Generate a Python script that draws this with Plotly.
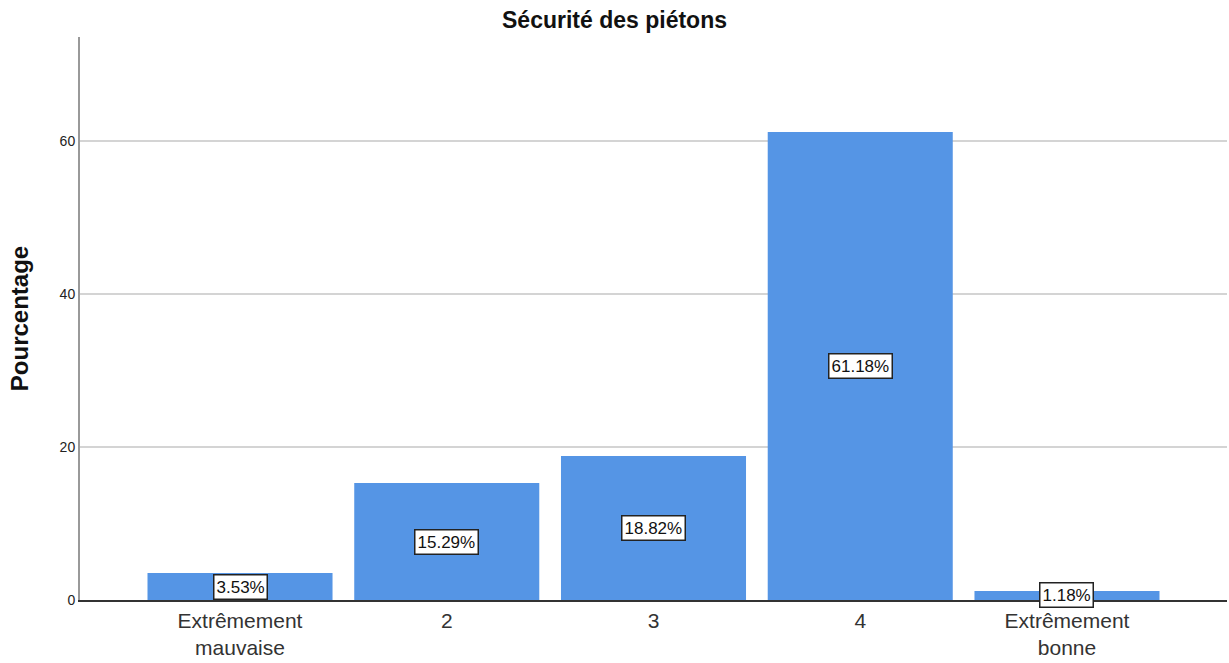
import plotly.graph_objects as go

categories = ["Extrêmement<br>mauvaise", "2", "3", "4", "Extrêmement<br>bonne"]
values = [3.53, 15.29, 18.82, 61.18, 1.18]
labels = ["3.53%", "15.29%", "18.82%", "61.18%", "1.18%"]
y_ticks = [0, 20, 40, 60]

FONT = "Liberation Sans, Arial, sans-serif"

fig = go.Figure()
fig.add_trace(go.Bar(
    x=list(range(len(categories))), y=values,
    marker=dict(color="#5595e5", line=dict(width=0)),
    width=0.895, hoverinfo="skip",
))

for i, (v, t) in enumerate(zip(values, labels)):
    fig.add_annotation(
        x=i, y=v / 2, text=t, showarrow=False,
        font=dict(family=FONT, size=17, color="#111"),
        bgcolor="white", bordercolor="#222", borderwidth=1.5, borderpad=2,
    )

fig.update_layout(
    width=1229, height=663,
    margin=dict(l=80, r=2, t=37, b=63),
    paper_bgcolor="white", plot_bgcolor="white",
    showlegend=False,
    title=dict(text="<b>Sécurité des piétons</b>", x=0.5, xanchor="center",
               y=1 - 20 / 663, yanchor="middle",
               font=dict(family=FONT, size=23, color="#111")),
    xaxis=dict(
        tickmode="array", tickvals=list(range(len(categories))), ticktext=categories,
        range=[-0.774, 4.774], showgrid=False, zeroline=False, automargin=False,
        showline=True, linecolor="#333", linewidth=1.5, ticklabelstandoff=1,
        ticks="", tickfont=dict(family=FONT, size=21, color="#333"),
    ),
    yaxis=dict(
        range=[0, 73.6], tickvals=y_ticks, showgrid=True, gridcolor="#d4d4d4", gridwidth=2,
        zeroline=False, showline=True, linecolor="#999", linewidth=2, automargin=False,
        ticks="", tickfont=dict(family=FONT, size=14, color="#222"),
        title=dict(text="<b>Pourcentage</b>", font=dict(family=FONT, size=24, color="#111"), standoff=24),
    ),
)

fig.write_html("out.html", config={"displayModeBar": False},
               post_script="document.body.style.margin='0';")
